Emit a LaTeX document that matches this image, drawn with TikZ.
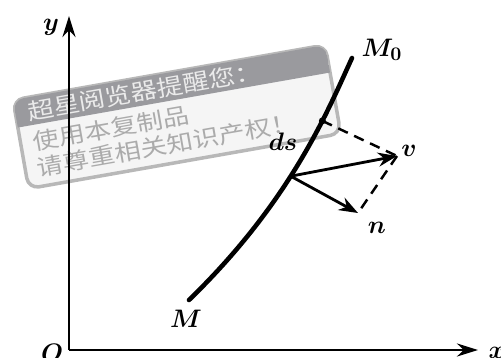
\documentclass[tikz,border=0pt]{standalone}
\usepackage{graphicx}
\usepackage{fontspec}
\newfontfamily\cjk{Noto Sans CJK SC}
\usetikzlibrary{arrows.meta}
\definecolor{Mark}{HTML}{9A9A9E}
\definecolor{MarkText}{HTML}{ABABAB}
\definecolor{MarkEdge}{HTML}{B8B8B8}

\begin{document}
\begin{tikzpicture}[x=0.02cm,y=-0.02cm,
  axis/.style={line width=1.6pt,-{Stealth[length=4.2mm,width=2.6mm]}},
  vec/.style={line width=1.6pt,-{Stealth[length=3.8mm,width=2.8mm]}},
  proj/.style={line width=1.4pt,dash pattern=on 6pt off 4pt},
  lbl/.style={font=\boldmath\fontsize{15}{15}\selectfont,inner sep=0pt},
  note/.style={font=\cjk\fontsize{15}{15}\selectfont,anchor=west,inner sep=0pt,transform shape}
]
\clip (0,0) rectangle (501,358);
% watermark
\begin{scope}[shift={(13,100)},rotate=10]
\draw[MarkEdge,line width=2pt,fill=white!96!black,rounded corners=6pt] (0,0) rectangle (317,90);
\begin{scope}
\clip[rounded corners=6pt] (0,0) rectangle (317,90);
\fill[Mark] (0,0) rectangle (317,28);
\end{scope}
\node[note,text=white!92!black] (head) at (12,14) {\scalebox{1}[0.85]{超星阅览器提醒您：}};
\node[note,text=MarkText] (use) at (12,45) {\scalebox{1}[0.85]{使用本复制品}};
\node[note,text=MarkText] (law) at (12,71) {\scalebox{1}[0.85]{请尊重相关知识产权！}};
\end{scope}
% axes
\coordinate (O) at (69,350);
\coordinate (ytip) at (69,16);
\coordinate (xtip) at (478,350);
\draw[axis] (O) -- (ytip);
\draw[axis] (O) -- (xtip);
\node[lbl] (olab) at (52,353) {$O$};
\node[lbl] (ylab) at (51,27) {$y$};
\node[lbl] (xlab) at (497,353) {$x$};
% curve
\coordinate (M) at (189,300);
\coordinate (M0) at (352,58);
\draw[line width=2.6pt,line cap=round] (M) .. controls (292,200) and (328,110) ..
  coordinate[pos=0.44] (P) coordinate[pos=0.67] (Q) (M0);
\fill (Q) circle (3.5);
\node[lbl] (mlab) at (186,319) {$M$};
\node[lbl] (m0lab) at (382,50) {$M_0$};
\node[lbl] (dslab) at (283,142) {$ds$};
% vectors
\coordinate (V) at (397,156);
\coordinate (N) at (358,213);
\draw[proj] (Q) -- (V);
\draw[proj] (V) -- (N);
\draw[vec] (P) -- (V);
\draw[vec] (P) -- (N);
\node[lbl] (vlab) at (409,151) {$v$};
\node[lbl] (nlab) at (377,228) {$n$};
\end{tikzpicture}
\end{document}
